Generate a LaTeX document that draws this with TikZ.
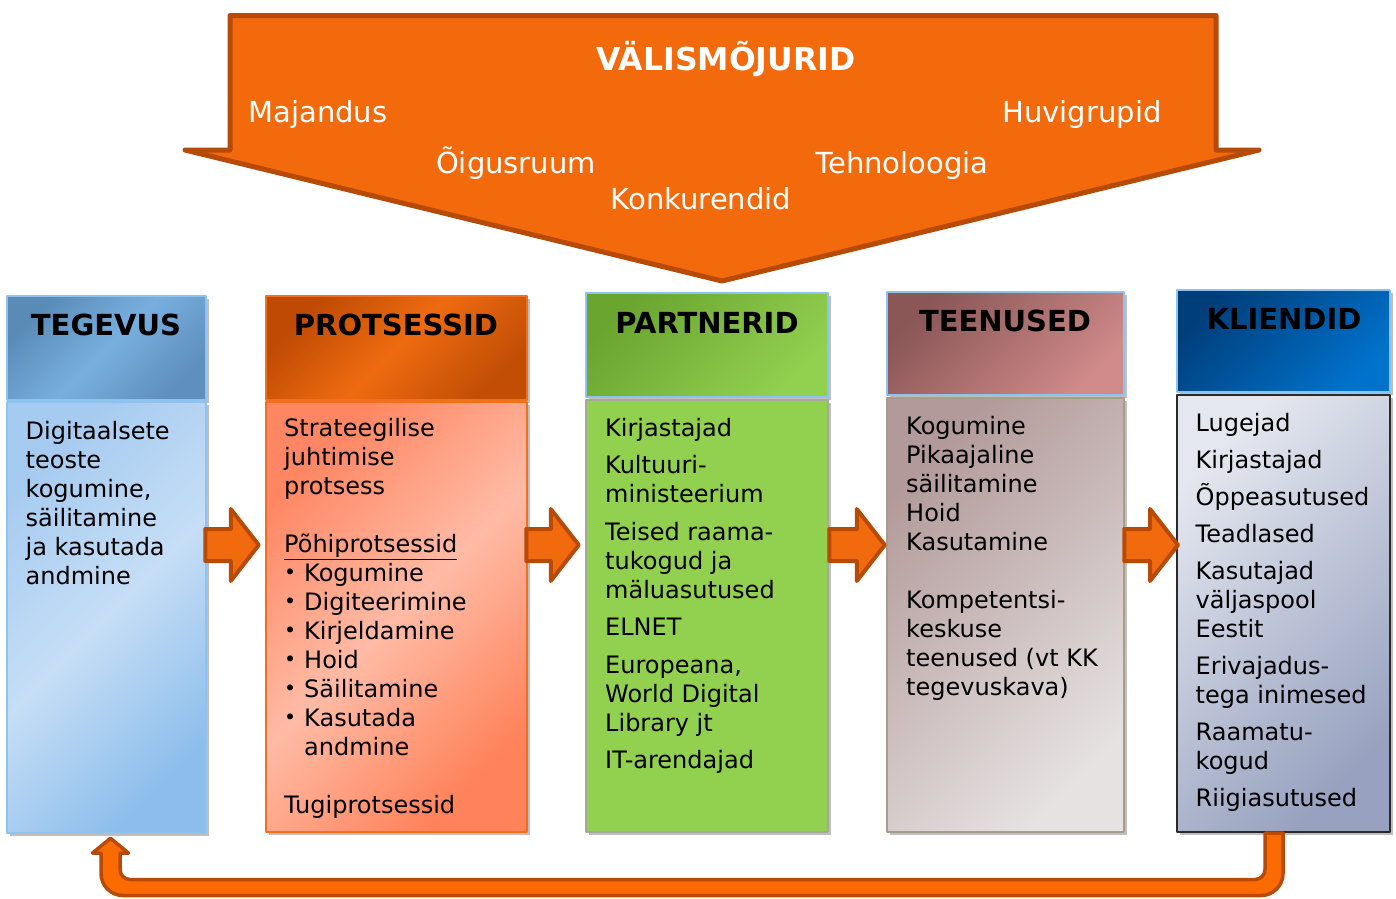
\documentclass[tikz,border=0pt]{standalone}
\usepackage{fontspec}
\setmainfont{DejaVu Sans}
\usetikzlibrary{calc,shadows}
\definecolor{topfill}{HTML}{F26A0C}
\definecolor{arline}{HTML}{B84A08}
\definecolor{arfill}{HTML}{F26A0E}
\definecolor{retfill}{HTML}{FC6A02}
\definecolor{lblue}{HTML}{8DC3EE}
\definecolor{tegHa}{HTML}{5A8BB7}\definecolor{tegHb}{HTML}{78AFDF}\definecolor{tegHc}{HTML}{5F8FBD}
\definecolor{tegBa}{HTML}{A6CBF0}\definecolor{tegBb}{HTML}{C6DEF6}\definecolor{tegBc}{HTML}{8DBEEB}
\definecolor{proHa}{HTML}{BE4A04}\definecolor{proHb}{HTML}{EE6B10}\definecolor{proHc}{HTML}{C24E06}
\definecolor{proBa}{HTML}{FF8662}\definecolor{proBb}{HTML}{FFBBA6}\definecolor{proBc}{HTML}{FF825A}
\definecolor{proline}{HTML}{F26F20}
\definecolor{parHa}{HTML}{6AA530}\definecolor{parHb}{HTML}{92D050}
\definecolor{parB}{HTML}{92D050}\definecolor{parline}{HTML}{A8A89A}
\definecolor{teeHa}{HTML}{8A5656}\definecolor{teeHb}{HTML}{D08A8A}
\definecolor{teeBa}{HTML}{B39A9A}\definecolor{teeBb}{HTML}{E6E2E2}\definecolor{teeline}{HTML}{A89C8A}
\definecolor{kliHa}{HTML}{003E7A}\definecolor{kliHb}{HTML}{0072CC}
\definecolor{kliBa}{HTML}{E4E7EF}\definecolor{kliBb}{HTML}{98A2C0}\definecolor{kliline}{HTML}{2A2A2A}
\newcommand\bul{\makebox[20pt][l]{\raisebox{1.5pt}{\fontsize{20.5}{22}\selectfont •}}}
\begin{document}
\begin{tikzpicture}[x=1pt,y=-1pt,line join=round,
  box/.style={rectangle,inner sep=0,line width=2.5,drop shadow={shadow xshift=2.5pt,shadow yshift=-2.5pt,fill=black!50,opacity=.5}},
  ttl/.style={font=\fontsize{29}{34}\selectfont\bfseries,inner sep=0},
  txt/.style={font=\fontsize{24}{29}\selectfont,align=left,anchor=north west,inner sep=0},
  ext/.style={font=\fontsize{29}{34}\selectfont,text=white,anchor=base,inner sep=0},
  blk/.style={fill=arfill,draw=arline,line width=4},
  ret/.style={fill=retfill,draw=arline,line width=3.5}]
\useasboundingbox (0,0) rectangle (1396,898);

\draw[fill=topfill,draw=arline,line width=5] (230,15.5) -- (1216,15.5) -- (1216,150) -- (1259,150) -- (722,281) -- (185,150) -- (230,150) -- cycle;
\node[ext,font=\fontsize{31.5}{36}\selectfont\bfseries] (vm) at (726,70) {VÄLISMÕJURID};
\node[ext] (maj) at (318,122) {Majandus};
\node[ext] (huv) at (1082,122) {Huvigrupid};
\node[ext] (oig) at (516,173) {Õigusruum};
\node[ext] (teh) at (902,173) {Tehnoloogia};
\node[ext] (kon) at (701,209) {Konkurendid};

\node[box,draw=lblue,top color=tegHa,bottom color=tegHc,middle color=tegHb,shading angle=45,minimum width=199,minimum height=104] (tegH) at (106.5,348) {};
\node[box,draw=lblue,top color=tegBa,bottom color=tegBc,middle color=tegBb,shading angle=45,minimum width=199,minimum height=431] (tegB) at (106.5,617.5) {};
\node[box,draw=proline,top color=proHa,bottom color=proHc,middle color=proHb,shading angle=45,minimum width=261,minimum height=104] (proH) at (396.5,348) {};
\node[box,draw=proline,top color=proBa,bottom color=proBc,middle color=proBb,shading angle=45,minimum width=261,minimum height=430] (proB) at (396.5,617) {};
\node[box,draw=lblue,top color=parHa,bottom color=parHb,shading angle=45,minimum width=242,minimum height=104] (parH) at (707,345) {};
\node[box,draw=parline,fill=parB,minimum width=242,minimum height=432] (parB) at (707,616) {};
\node[box,draw=lblue,top color=teeHa,bottom color=teeHb,shading angle=45,minimum width=237,minimum height=103] (teeH) at (1005.5,343.5) {};
\node[box,draw=teeline,top color=teeBa,bottom color=teeBb,shading angle=45,minimum width=237,minimum height=434] (teeB) at (1005.5,615) {};
\node[box,draw=lblue,top color=kliHa,bottom color=kliHb,shading angle=45,minimum width=213,minimum height=102] (kliH) at (1283.5,341) {};
\node[box,draw=kliline,line width=2,top color=kliBa,bottom color=kliBb,shading angle=45,minimum width=213,minimum height=437] (kliB) at (1283.5,613.5) {};

\node[ttl] (tegT) at (106,325) {TEGEVUS};
\node[ttl] (proT) at (396,325) {PROTSESSID};
\node[ttl] (parT) at (707,323) {PARTNERID};
\node[ttl] (teeT) at (1005,321) {TEENUSED};
\node[ttl] (kliT) at (1284,319) {KLIENDID};

\node[txt] (tegX) at (25.5,421) {Digitaalsete\\teoste\\kogumine,\\säilitamine\\ja kasutada\\andmine};
\node[txt] (proX) at (284,418) {Strateegilise\\juhtimise\\protsess\\[29pt]\underline{Põhiprotsessid}\\
  \bul Kogumine\\\bul Digiteerimine\\\bul Kirjeldamine\\
  \bul Hoid\\\bul Säilitamine\\\bul Kasutada\\\hspace*{20pt}andmine\\[29pt]Tugiprotsessid};
\node[txt] (parX) at (605,418) {Kirjastajad\\[8.5pt]Kultuuri-\\ministeerium\\[8.5pt]Teised raama-\\tukogud ja\\mäluasutused\\[8.5pt]ELNET\\[8.5pt]Europeana,\\World Digital\\Library jt\\[8.5pt]IT-arendajad};
\node[txt] (teeX) at (906,416) {Kogumine\\Pikaajaline\\säilitamine\\Hoid\\Kasutamine\\[29pt]Kompetentsi-\\keskuse\\teenused (vt KK\\tegevuskava)};
\node[txt] (kliX) at (1195.5,413) {Lugejad\\[8pt]Kirjastajad\\[8pt]Õppeasutused\\[8pt]Teadlased\\[8pt]Kasutajad\\väljaspool\\Eestit\\[8pt]Erivajadus-\\tega inimesed\\[8pt]Raamatu-\\kogud\\[8pt]Riigiasutused};

\foreach \a/\b/\s/\e in {tegB/proB/-2/-6,proB/parB/-2/-6,parB/teeB/0/-1,teeB/kliB/-1/2}{
\draw[blk] let \p1=(\a.east),\p2=(\b.west) in
  ({\x1+\s*1pt},-529pt) -- ({\x2+\e*1pt-28pt},-529pt) -- ({\x2+\e*1pt-28pt},-509pt) -- ({\x2+\e*1pt},-545pt)
  -- ({\x2+\e*1pt-28pt},-581pt) -- ({\x2+\e*1pt-28pt},-561pt) -- ({\x1+\s*1pt},-561pt) -- cycle;
}

\draw[ret] ([xshift=-18.5]kliB.south) [rounded corners=10] |- (120,879.5) [sharp corners] -- (120,853) -- (128.5,853)
  -- ([xshift=4,yshift=-4]tegB.south) -- (92.5,853) -- (101,853) [rounded corners=22] -- (101,895.5) -- (1283,895.5)
  [sharp corners] -- ([xshift=-0.5]kliB.south) -- cycle;
\end{tikzpicture}
\end{document}
